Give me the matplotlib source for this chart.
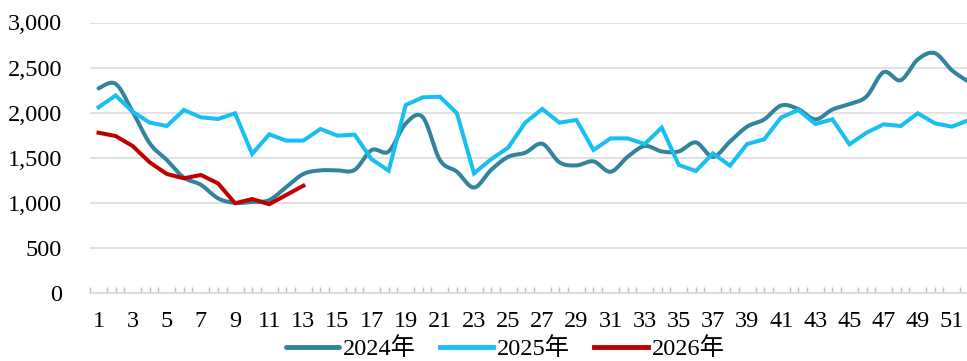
import numpy as np
import matplotlib
matplotlib.use("Agg")
import matplotlib.pyplot as plt
from matplotlib.ticker import FixedLocator, FuncFormatter

plt.rcParams['font.family'] = ['Liberation Serif', 'Noto Sans CJK SC']

weeks = list(range(1, 53))

sales_2024 = [2270, 2320, 2010, 1660, 1475, 1280, 1200, 1050, 1000, 1010,
              1030, 1175, 1320, 1360, 1360, 1365, 1585, 1570, 1880, 1950,
              1475, 1345, 1170, 1365, 1510, 1556, 1655, 1450, 1415, 1460,
              1345, 1510, 1630, 1570, 1570, 1670, 1510, 1680, 1845, 1925,
              2080, 2040, 1925, 2035, 2095, 2180, 2450, 2360, 2590, 2660,
              2470, 2340]
sales_2025 = [2060, 2190, 2010, 1890, 1852, 2030, 1948, 1930, 1993, 1542,
              1760, 1690, 1690, 1819, 1745, 1756, 1483, 1357, 2085, 2170,
              2177, 1993, 1327, 1483, 1612, 1889, 2041, 1889, 1919, 1586,
              1715, 1715, 1652, 1834, 1420, 1353, 1549, 1412, 1652, 1704,
              1948, 2030, 1874, 1926, 1649, 1778, 1871, 1852, 1993, 1882,
              1845, 1919]
sales_2026 = [1778, 1741, 1630, 1449, 1320, 1272, 1309, 1216, 995, 1042,
              984, 1087, 1190]

series_labels = ['2024年', '2025年', '2026年']
colors = ['#31849B', '#17BFF3', '#C00000']
y_ticks = [0, 500, 1000, 1500, 2000, 2500, 3000]

FS = 17.5


def smooth(x, y, n=20):
    """Catmull-Rom style smoothing through every data point."""
    x = np.asarray(x, float)
    y = np.asarray(y, float)
    px = np.concatenate([[x[0]], x, [x[-1]]])
    py = np.concatenate([[y[0]], y, [y[-1]]])
    xs, ys = [], []
    t = np.linspace(0, 1, n, endpoint=False)
    for i in range(1, len(px) - 2):
        p0x, p1x, p2x, p3x = px[i - 1], px[i], px[i + 1], px[i + 2]
        p0y, p1y, p2y, p3y = py[i - 1], py[i], py[i + 1], py[i + 2]
        c1x = p1x + (p2x - p0x) / 6
        c1y = p1y + (p2y - p0y) / 6
        c2x = p2x - (p3x - p1x) / 6
        c2y = p2y - (p3y - p1y) / 6
        b0 = (1 - t) ** 3
        b1 = 3 * (1 - t) ** 2 * t
        b2 = 3 * (1 - t) * t ** 2
        b3 = t ** 3
        xs.append(b0 * p1x + b1 * c1x + b2 * c2x + b3 * p2x)
        ys.append(b0 * p1y + b1 * c1y + b2 * c2y + b3 * p2y)
    xs.append([x[-1]])
    ys.append([y[-1]])
    return np.concatenate(xs), np.concatenate(ys)


fig = plt.figure(figsize=(9.67, 3.61), dpi=100)
ax = fig.add_axes([90 / 967, 68 / 361, 887.5 / 967, 270.5 / 361])

sx, sy = smooth(weeks, sales_2024)
ax.plot(sx, sy, color=colors[0], lw=2.9, label=series_labels[0],
        solid_capstyle='round', zorder=3)
ax.plot(weeks, sales_2025, color=colors[1], lw=2.9, label=series_labels[1],
        solid_joinstyle='miter', zorder=4)
ax.plot(weeks[:len(sales_2026)], sales_2026, color=colors[2], lw=2.9,
        label=series_labels[2], zorder=5)

ax.set_xlim(0.5, 52.5)
ax.set_ylim(0, 3000)
ax.set_yticks(y_ticks)
ax.yaxis.set_major_formatter(FuncFormatter(lambda v, p: f"{int(v):,}"))
ax.grid(axis='y', color='#D9D9D9', lw=1.1, zorder=0)
ax.set_axisbelow(True)

ax.xaxis.set_major_locator(FixedLocator(weeks[::2]))
ax.xaxis.set_minor_locator(FixedLocator(np.arange(0.5, 53, 0.5)))
ax.tick_params(axis='x', which='major', length=0, pad=13, labelsize=FS)
ax.tick_params(axis='x', which='minor', direction='in', length=4,
               color='#BFBFBF', width=1)
ax.tick_params(axis='y', length=0, pad=20, labelsize=FS)

for side in ['top', 'right', 'left']:
    ax.spines[side].set_visible(False)
ax.spines['bottom'].set_color('#D9D9D9')
ax.spines['bottom'].set_linewidth(1.1)

leg = fig.legend(loc='center', bbox_to_anchor=(505 / 967, 1 - 349 / 361),
                 ncol=3, frameon=False, fontsize=FS, handlelength=2.2,
                 handletextpad=0.15, columnspacing=1.0,
                 borderaxespad=0, borderpad=0)
for line in leg.get_lines():
    line.set_linewidth(3.5)

fig.savefig('out.png', dpi=100)
